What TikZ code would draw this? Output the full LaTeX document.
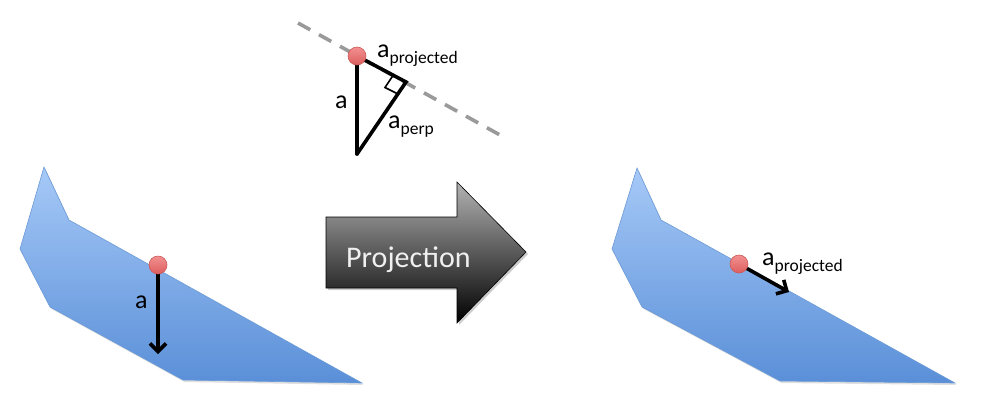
\documentclass[tikz,border=0pt]{standalone}
\usepackage{fontspec}
\setmainfont{Carlito}
\usetikzlibrary{arrows.meta,shadows,calc}
\definecolor{polytop}{HTML}{A6C9F7}
\definecolor{polybot}{HTML}{5A8FD8}
\definecolor{polyedge}{HTML}{6B9AD6}
\definecolor{balltop}{HTML}{F29090}
\definecolor{ballbot}{HTML}{DC5E5E}
\definecolor{balledge}{HTML}{CC5858}
\definecolor{dashgray}{HTML}{9A9A9A}
\tikzset{
  plane/.style={top color=polytop, bottom color=polybot, draw=polyedge, line width=0.6pt,
    drop shadow={opacity=0.25, shadow xshift=1.5pt, shadow yshift=-2pt}},
  ball/.style={circle, minimum size=18pt, inner sep=0pt, top color=balltop, bottom color=ballbot, draw=balledge, line width=0.6pt},
  vec/.style={line width=3.6pt, -{Straight Barb[length=8pt,width=16pt,line width=3.6pt]}},
  seg/.style={line width=3.6pt, line cap=round},
  lbl/.style={inner sep=0pt, font=\fontsize{26}{26}\selectfont},
  bigarrow/.style={top color=black!30, bottom color=black, draw=black, line width=0.6pt,
    drop shadow={opacity=0.4, shadow xshift=2pt, shadow yshift=-2pt}}
}
\newcommand{\subtxt}[1]{\raisebox{-6pt}{\fontsize{17.5}{17.5}\selectfont #1}}
\begin{document}
\begin{tikzpicture}[x=1pt,y=-1pt]
\useasboundingbox (0,0) rectangle (1000,402);
% ---- left plane ----
\path[plane] (44,167) -- (69,220) -- (362,383) -- (183,380) -- (50,307) -- (20,249) -- cycle;
\coordinate (a1end) at (158,354);
\draw[vec] (158,265) -- (a1end);
\node[ball] (p1) at (158,265) {};
\node[lbl, anchor=base west] (la1) at (135,308) {a};
% ---- right plane ----
\path[plane] (637,168) -- (661,220) -- (955,383) -- (780,381) -- (642,307) -- (612,249) -- cycle;
\coordinate (a2end) at (789,292);
\draw[vec] (739,264) -- (a2end);
\node[ball] (p2) at (739,264) {};
\node[lbl, anchor=base west] (la2) at (762,265) {a\subtxt{projected}};
% ---- big arrow ----
\path[bigarrow] (326,217) -- (457,217) -- (457,182) -- (526,252) -- (457,323) -- (457,288) -- (326,288) -- cycle;
\node[inner sep=0pt, anchor=base west, text=white!94!black, font=\fontsize{30}{30}\selectfont] (proj) at (346,267) {Projection};
% ---- top triangle ----
\coordinate (d1) at (298,23);
\coordinate (d2) at (500,135);
\draw[dashgray, line width=3.6pt, dash pattern=on 14pt off 10pt] (d1) -- (d2);
\coordinate (corner) at (406,82);
\coordinate (bot) at (357,154);
\draw[seg] (357,56) -- (bot);
\draw[seg] (357,56) -- (corner) -- (bot);
\draw[line width=1.6pt] ($(corner)+(-13,-6.5)$) -- ++(-8,12) -- ++(13,6.5);
\node[ball] (p0) at (357,56) {};
\node[lbl, anchor=base west] (la0) at (335,108) {a};
\node[lbl, anchor=base west] (lproj) at (377,57) {a\subtxt{projected}};
\node[lbl, anchor=base west] (lperp) at (388,128) {a\subtxt{perp}};
\end{tikzpicture}
\end{document}
